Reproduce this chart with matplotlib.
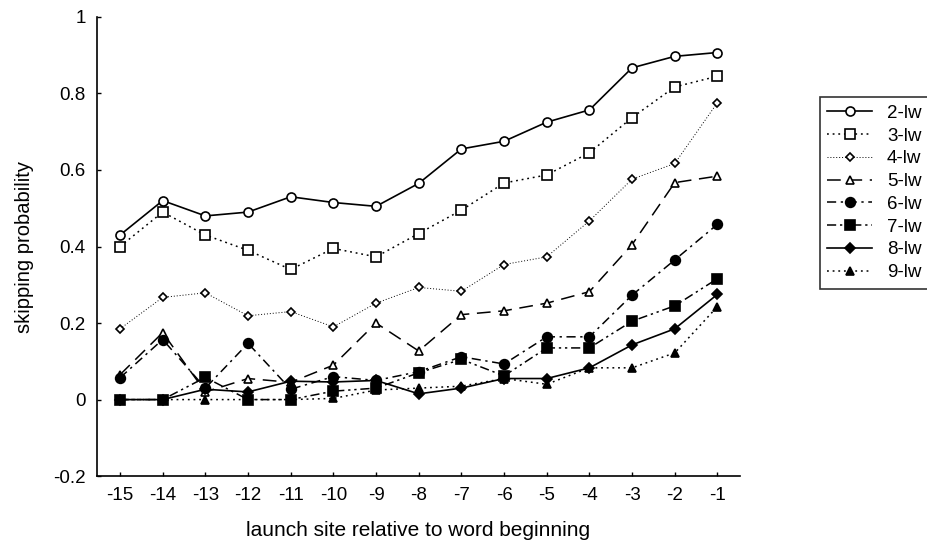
import matplotlib
matplotlib.use("Agg")
import matplotlib.pyplot as plt

# launch site positions and skipping probabilities per word length
launch_site = list(range(-15, 0))

p_2lw = [0.43, 0.52, 0.48, 0.49, 0.53, 0.515, 0.505, 0.565, 0.655, 0.675, 0.725, 0.757, 0.867, 0.897, 0.907]
p_3lw = [0.40, 0.49, 0.43, 0.39, 0.34, 0.395, 0.373, 0.434, 0.495, 0.566, 0.587, 0.645, 0.737, 0.817, 0.845]
p_4lw = [0.185, 0.267, 0.279, 0.219, 0.23, 0.19, 0.252, 0.293, 0.283, 0.353, 0.373, 0.467, 0.576, 0.617, 0.776]
p_5lw = [0.065, 0.175, 0.02, 0.055, 0.045, 0.09, 0.2, 0.127, 0.222, 0.232, 0.252, 0.282, 0.405, 0.567, 0.584]
p_6lw = [0.057, 0.157, 0.03, 0.147, 0.027, 0.06, 0.05, 0.073, 0.112, 0.093, 0.164, 0.164, 0.273, 0.365, 0.458]
p_7lw = [0.0, 0.0, 0.058, 0.0, 0.0, 0.022, 0.03, 0.07, 0.105, 0.062, 0.135, 0.135, 0.205, 0.245, 0.316]
p_8lw = [0.0, 0.0, 0.027, 0.02, 0.048, 0.046, 0.05, 0.015, 0.03, 0.055, 0.055, 0.083, 0.143, 0.185, 0.275]
p_9lw = [0.0, 0.0, 0.0, 0.0, 0.0, 0.003, 0.025, 0.03, 0.035, 0.055, 0.04, 0.083, 0.083, 0.122, 0.243]

labels = ["2-lw", "3-lw", "4-lw", "5-lw", "6-lw", "7-lw", "8-lw", "9-lw"]
y_ticks = [-0.2, 0, 0.2, 0.4, 0.6, 0.8, 1]
y_tick_labels = ["-0.2", "0", "0.2", "0.4", "0.6", "0.8", "1"]

plt.rcParams["font.family"] = ["Liberation Sans", "DejaVu Sans"]

fig = plt.figure(figsize=(9.28, 5.46), dpi=100)
ax = fig.add_axes([0.1045, 0.128, 0.6925, 0.841])

# style for each series: linestyle, marker, filled?, marker size, line width
styles = [
    ("-", "o", False, 6.5, 1.2),
    ((0, (1.2, 2.5)), "s", False, 6.5, 1.1),
    ((0, (1, 2)), "D", False, 4, 0.7),
    ((0, (9, 5)), "^", False, 6, 1.1),
    ((0, (6, 3, 1.5, 3)), "o", True, 7, 1.1),
    ((0, (6, 2.5, 1.5, 2.5, 1.5, 2.5)), "s", True, 6.5, 1.1),
    ("-", "D", True, 5, 1.2),
    ((0, (1.2, 2.5)), "^", True, 6, 1.1),
]
series = [p_2lw, p_3lw, p_4lw, p_5lw, p_6lw, p_7lw, p_8lw, p_9lw]

for vals, lab, (ls, mk, filled, ms, lw) in zip(series, labels, styles):
    ax.plot(launch_site, vals, linestyle=ls, marker=mk, color="black",
            markerfacecolor="black" if filled else "white",
            markeredgecolor="black", markersize=ms, linewidth=lw,
            markeredgewidth=1.2, label=lab)

ax.set_xlim(-15.54, -0.48)
ax.set_ylim(-0.2, 1)
ax.set_xticks(launch_site)
ax.set_xticklabels([str(v) for v in launch_site])
ax.set_yticks(y_ticks)
ax.set_yticklabels(y_tick_labels)
ax.tick_params(labelsize=13.5, length=3, width=1, direction="in", pad=8)
for side in ["top", "right"]:
    ax.spines[side].set_visible(False)
for side in ["left", "bottom"]:
    ax.spines[side].set_linewidth(1.2)

ax.set_xlabel("launch site relative to word beginning", fontsize=15, labelpad=12)
ax.set_ylabel("skipping probability", fontsize=14.5, labelpad=14)

leg = fig.legend(loc="upper left", bbox_to_anchor=(0.873, 0.839), fontsize=13.5,
                 frameon=True, fancybox=False, edgecolor="black",
                 handlelength=2.4, handletextpad=0.8, labelspacing=0.3,
                 borderpad=0.4)
leg.get_frame().set_linewidth(1.2)

fig.savefig("out.png", dpi=100)
